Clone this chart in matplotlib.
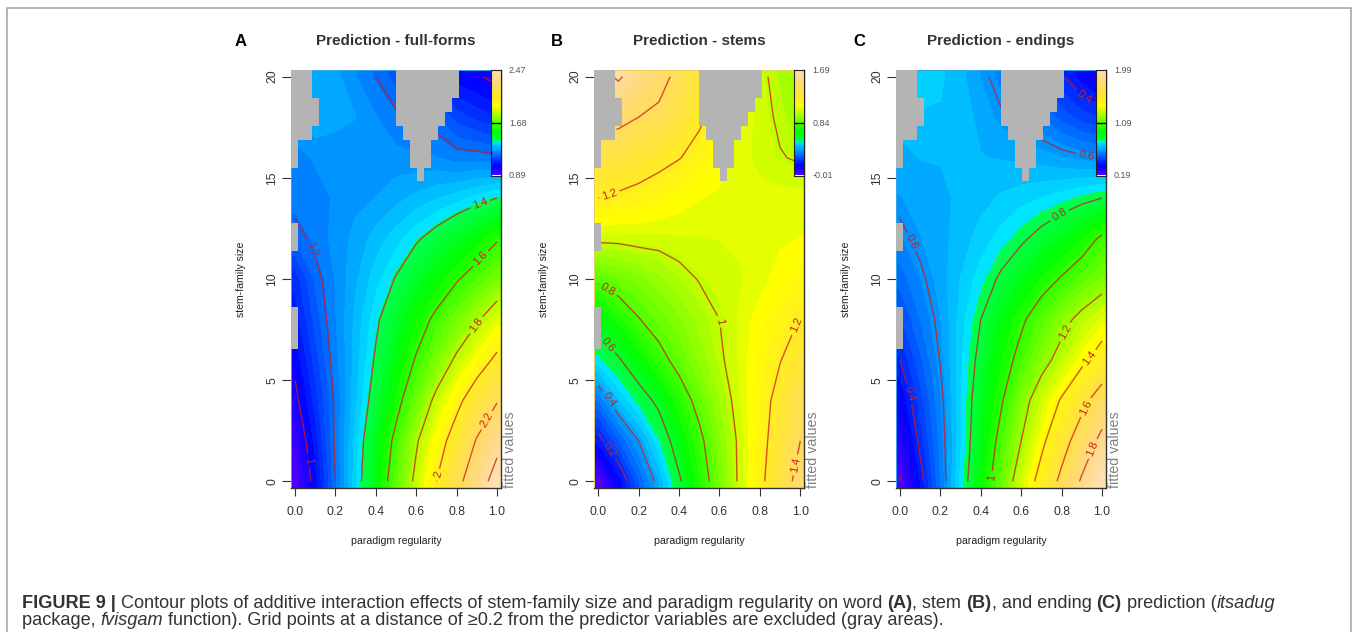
import colorsys
import numpy as np
import matplotlib
matplotlib.use("Agg")
import matplotlib.pyplot as plt
from matplotlib.colors import ListedColormap, BoundaryNorm
from matplotlib.patches import FancyBboxPatch

W, H = 1358, 632
plt.rcParams['font.family'] = ['Liberation Sans', 'DejaVu Sans']

regularity = [0, .1, .2, .3, .4, .5, .6, .7, .8, .9, 1]
family_size = [0, 2, 4, 6, 8, 10, 12, 14, 16, 18, 20]

full_forms = [
    [.89, 1.03, 1.20, 1.355, 1.51, 1.665, 1.83, 2.00, 2.15, 2.31, 2.47],
    [.93, 1.06, 1.21, 1.345, 1.485, 1.63, 1.785, 1.93, 2.07, 2.21, 2.35],
    [.98, 1.095, 1.21, 1.325, 1.44, 1.56, 1.695, 1.83, 1.96, 2.09, 2.19],
    [1.02, 1.125, 1.225, 1.315, 1.41, 1.51, 1.61, 1.715, 1.82, 1.925, 2.03],
    [1.06, 1.155, 1.235, 1.31, 1.385, 1.465, 1.545, 1.625, 1.705, 1.785, 1.875],
    [1.09, 1.18, 1.24, 1.295, 1.35, 1.405, 1.465, 1.525, 1.59, 1.65, 1.71],
    [1.18, 1.215, 1.25, 1.28, 1.315, 1.35, 1.39, 1.43, 1.475, 1.525, 1.59],
    [1.22, 1.23, 1.24, 1.26, 1.27, 1.29, 1.31, 1.33, 1.35, 1.375, 1.40],
    [1.23, 1.24, 1.25, 1.25, 1.25, 1.25, 1.245, 1.24, 1.22, 1.22, 1.21],
    [1.25, 1.30, 1.28, 1.27, 1.24, 1.21, 1.18, 1.175, 1.13, 1.10, 1.08],
    [1.25, 1.30, 1.28, 1.24, 1.20, 1.16, 1.12, 1.07, 1.03, 1.01, .98],
]
stems = [
    [-.01, .13, .29, .43, .585, .73, .87, 1.02, 1.165, 1.31, 1.46],
    [.17, .29, .40, .53, .655, .77, .90, 1.02, 1.15, 1.28, 1.40],
    [.33, .46, .55, .625, .735, .84, .94, 1.04, 1.14, 1.25, 1.35],
    [.52, .59, .67, .76, .84, .915, .985, 1.05, 1.125, 1.195, 1.27],
    [.64, .72, .795, .85, .90, .955, 1.00, 1.05, 1.10, 1.15, 1.205],
    [.82, .86, .89, .93, .97, 1.005, 1.02, 1.04, 1.06, 1.10, 1.14],
    [1.02, 1.02, 1.03, 1.03, 1.04, 1.04, 1.045, 1.05, 1.06, 1.07, 1.08],
    [1.20, 1.18, 1.16, 1.13, 1.10, 1.08, 1.07, 1.06, 1.06, 1.06, 1.06],
    [1.32, 1.30, 1.27, 1.24, 1.205, 1.16, 1.10, 1.06, 1.03, 1.005, .99],
    [1.45, 1.44, 1.40, 1.37, 1.31, 1.22, 1.15, 1.07, 1.03, .985, .95],
    [1.55, 1.62, 1.52, 1.45, 1.36, 1.27, 1.18, 1.09, 1.02, .97, .93],
]
endings = [
    [.19, .37, .55, .74, .91, 1.09, 1.28, 1.46, 1.64, 1.82, 1.99],
    [.27, .42, .565, .725, .88, 1.04, 1.20, 1.365, 1.53, 1.69, 1.845],
    [.33, .46, .58, .725, .86, .985, 1.14, 1.28, 1.415, 1.55, 1.69],
    [.40, .505, .605, .72, .83, .94, 1.04, 1.15, 1.25, 1.365, 1.47],
    [.47, .55, .62, .71, .80, .89, .98, 1.065, 1.155, 1.24, 1.32],
    [.53, .585, .64, .695, .75, .815, .875, .95, 1.01, 1.07, 1.13],
    [.58, .62, .645, .675, .71, .745, .785, .83, .88, .94, 1.02],
    [.62, .635, .65, .665, .68, .70, .715, .73, .75, .775, .80],
    [.64, .66, .66, .665, .66, .655, .65, .64, .625, .61, .595],
    [.68, .69, .69, .68, .645, .61, .575, .55, .50, .46, .44],
    [.70, .71, .70, .67, .62, .57, .52, .47, .41, .35, .29],
]

titles = ['Prediction - full-forms', 'Prediction - stems', 'Prediction - endings']
letters = ['A', 'B', 'C']
letter_x = [241, 557, 859]
color_limits = [(.89, 2.47), (-.01, 1.69), (.19, 1.99)]
colorbar_labels = [('2.47', '1.68', '0.89'), ('1.69', '0.84', '-0.01'), ('1.99', '1.09', '0.19')]
contour_levels = [
    [1, 1.2, 1.4, 1.6, 1.8, 2, 2.2, 2.4],
    [.2, .4, .6, .8, 1, 1.2, 1.4, 1.6],
    [.2, .4, .6, .8, 1, 1.2, 1.4, 1.6, 1.8],
]
label_spots = [
    [(.05, 1.0), (.05, 11.3), (.91, 13.9), (.92, 11), (.90, 7.7), (.72, .3), (.97, 2.9)],
    [(.05, 1.5), (.05, 4), (.03, 6.6), (.03, 9.2), (.6, 7.9), (.96, 7.8), (.98, .8), (.05, 14.3), (.05, 16.7)],
    [(.05, 11.8), (.78, 13.3), (.06, 4.35), (.46, .2), (.85, 7.2), (.95, 6), (.95, 3.5), (.98, 1.5), (.92, 19.1), (.93, 16.4)],
]
xticks = [0, .2, .4, .6, .8, 1]
yticks = [0, 5, 10, 15, 20]

# Excluded grid cells (30 x 30 grid, row 0 on top): row, first col, last col
gray_row = [0, 1, 2, 3, 4, 5, 6, 0, 1, 2, 3, 4, 5, 6, 7, 11, 12, 17, 18, 19]
gray_first = [0, 0, 0, 0, 0, 0, 0, 15, 15, 15, 15, 16, 17, 17, 18, 0, 0, 0, 0, 0]
gray_last = [2, 2, 3, 3, 2, 0, 0, 23, 23, 22, 21, 20, 19, 19, 18, 0, 0, 0, 0, 0]

axes_left = [291, 594.3, 896]
edge_colors = ['#35a5e8', '#e8d060', '#35a5e8']
AX_W, AX_TOP, AX_BOT = 210, 70, 488


def topo_colors(n=50):
    j = n // 3
    k = n // 3
    i = n - j - k
    cols = [colorsys.hsv_to_rgb(h, 1, 1) for h in np.linspace(43 / 60, 31 / 60, j)]
    cols += [colorsys.hsv_to_rgb(h, 1, 1) for h in np.linspace(23 / 60, 11 / 60, k)]
    cols += [colorsys.hsv_to_rgb(h, s, 1) for h, s in zip(np.linspace(10 / 60, 6 / 60, i), np.linspace(1, .3, i))]
    return ListedColormap(cols)


cmap = topo_colors()
fig = plt.figure(figsize=(W / 100, H / 100), dpi=100, facecolor='white')


def px_axes(l, t, r, b):
    return fig.add_axes([l / W, 1 - b / H, (r - l) / W, (b - t) / H])


XLIM = (-.02, 1.02)
YLIM = (-.33, 20.33)
TXT = '#333333'
panels = [full_forms, stems, endings]

for n, z in enumerate(panels):
    left = axes_left[n]
    ax = px_axes(left, AX_TOP, left + AX_W, AX_BOT)
    z = np.array(z)
    x = np.array(regularity, float)
    y = np.array(family_size, float)
    zmin, zmax = color_limits[n]
    bounds = np.linspace(zmin, zmax, 51)
    norm = BoundaryNorm(bounds, 50)
    xp = np.r_[XLIM[0], x, XLIM[1]]
    yp = np.r_[YLIM[0], y, YLIM[1]]
    zp = np.pad(z, 1, mode='edge')
    ax.contourf(xp, yp, zp, levels=bounds, cmap=cmap, norm=norm, extend='both', zorder=1)
    cs = ax.contour(x, y, z, levels=contour_levels[n], colors='#d01818', linewidths=1.0, alpha=.75, zorder=2)
    labs = ax.clabel(cs, fontsize=8, fmt='%g', inline=True, inline_spacing=3, manual=label_spots[n])
    for t in labs:
        t.set_zorder(2.5)
        t.set_color('#c82020')

    mask = np.full((30, 30), np.nan)
    for r, a, b in zip(gray_row, gray_first, gray_last):
        mask[29 - r, a:b + 1] = 1
    ax.pcolormesh(np.linspace(*XLIM, 31), np.linspace(*YLIM, 31), np.ma.masked_invalid(mask),
                  cmap=ListedColormap(['#b4b4b4']), zorder=3)

    ax.set_xlim(XLIM)
    ax.set_ylim(YLIM)
    for s in ('top', 'left'):
        ax.spines[s].set_color(edge_colors[n])
        ax.spines[s].set_linewidth(.7)
    for s in ('bottom', 'right'):
        ax.spines[s].set_color('#333333')
        ax.spines[s].set_linewidth(1)
    ax.set_xticks(xticks, [f'{v:.1f}' for v in xticks])
    ax.set_yticks(yticks, [str(v) for v in yticks])
    ax.tick_params(axis='x', length=5.8, width=.8, color='#333333', labelsize=8.8, labelcolor=TXT, pad=7.5)
    ax.tick_params(axis='y', length=6.5, width=.8, color='#333333', labelsize=8.8, labelcolor=TXT, pad=2.8)
    for t in ax.get_yticklabels():
        t.set_rotation(90)
        t.set_va('center')

    cx = left + AX_W / 2
    fig.text(cx / W, 1 - 41 / H, titles[n], ha='center', va='center', fontsize=11, fontweight='bold', color='#333333')
    fig.text(cx / W, 1 - 541 / H, 'paradigm regularity', ha='center', va='center', fontsize=7.6, color='#222222')
    fig.text((left - 50) / W, 1 - 279 / H, 'stem-family size', ha='center', va='center', rotation=90,
             fontsize=7.6, color='#222222')
    fig.text(letter_x[n] / W, 1 - 41 / H, letters[n], ha='center',
             va='center', fontsize=12, fontweight='bold', color='black')
    fig.text((left + AX_W + 9) / W, 1 - AX_BOT / H, 'fitted values', ha='center', va='bottom', rotation=90,
             fontsize=10.3, color='#808080')

    # colour key
    cb = px_axes(left + AX_W - 10.5, 70, left + AX_W, 175.5)
    cb.imshow(np.linspace(1, 0, 50)[:, None], cmap=cmap, aspect='auto', extent=(0, 1, 0, 1), vmin=0, vmax=1,
              interpolation='nearest')
    cb.axhline(.5, color='black', lw=1)
    cb.set_xticks([])
    cb.set_yticks([])
    for s in cb.spines.values():
        s.set_color('#222222')
        s.set_linewidth(.8)
    for lab, yy in zip(colorbar_labels[n], (70.7, 124, 176)):
        fig.text((left + AX_W + 8) / W, 1 - yy / H, lab, ha='left', va='center', fontsize=6.5, color='#555555')

# frame
fig.add_artist(FancyBboxPatch((7 / W, 1 - 660 / H), (1351 - 7) / W, (660 - 8) / H, transform=fig.transFigure,
                              boxstyle='square,pad=0', fc='none', ec='#a8a8a8', lw=1.2, zorder=0))

# caption
CAP = '#333333'
CAP_SIZE = 13.05
line1 = [('FIGURE 9 | ', 'bold', 'normal'),
         ('Contour plots of additive interaction effects of stem-family size and paradigm regularity on word ', 'normal', 'normal'),
         ('(A)', 'bold', 'normal'), (', stem ', 'normal', 'normal'), ('(B)', 'bold', 'normal'),
         (', and ending ', 'normal', 'normal'), ('(C)', 'bold', 'normal'), (' prediction (', 'normal', 'normal'),
         ('itsadug', 'normal', 'italic')]
line2 = [('package, ', 'normal', 'normal'), ('fvisgam', 'normal', 'italic'),
         (' function). Grid points at a distance of \u22650.2 from the predictor variables are excluded (gray areas).',
          'normal', 'normal')]
renderer = fig.canvas.get_renderer()


def width(s, weight, style):
    t = fig.text(0, 0, s, fontsize=CAP_SIZE, fontweight=weight, fontstyle=style)
    w = t.get_window_extent(renderer).width
    t.remove()
    return w


def put_line(runs, x0, base):
    xx = x0
    for s, weight, style in runs:
        fig.text(xx / W, 1 - base / H, s, fontsize=CAP_SIZE, fontweight=weight, fontstyle=style, color=CAP,
                 ha='left', va='baseline')
        xx += width(s + '.', weight, style) - width('.', weight, style)


put_line(line1, 22, 608)
put_line(line2, 22, 625)

fig.savefig('out.png', dpi=100, facecolor='white')
